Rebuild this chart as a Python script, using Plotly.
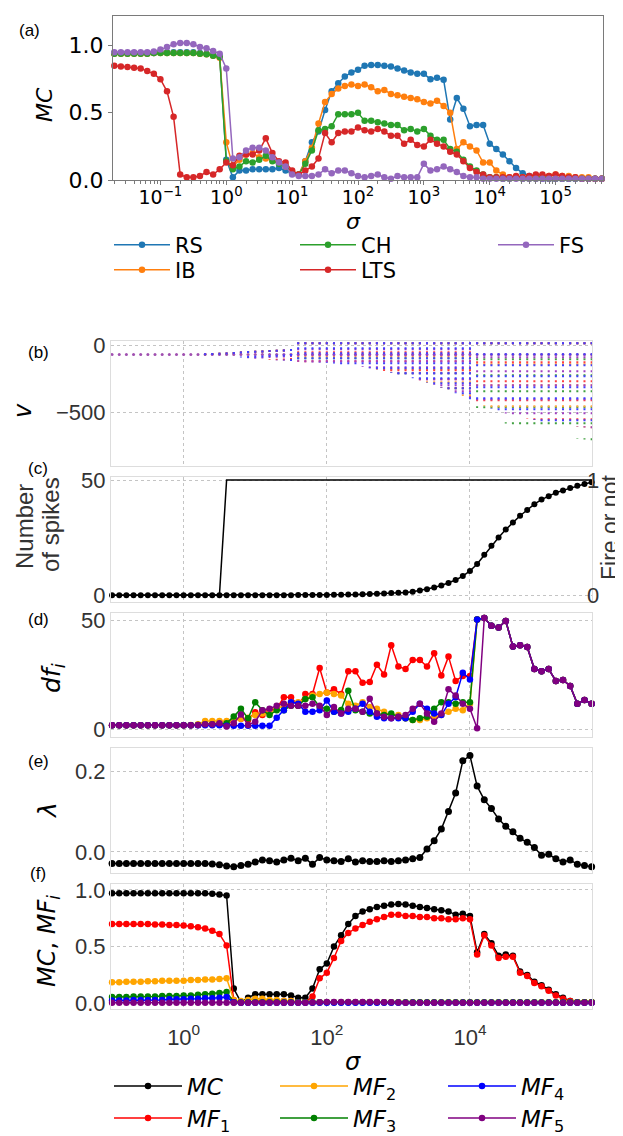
import plotly.graph_objects as go

W, H = 623, 1136

# ---------------- sigma grids (log10 of sigma) ----------------
log_sigma_a = [-1.7, -1.6, -1.5, -1.4, -1.3, -1.2, -1.1, -1.0, -0.9, -0.8,
               -0.7, -0.6, -0.5, -0.4, -0.3, -0.2, -0.1, 0.0, 0.1, 0.2,
               0.3, 0.4, 0.5, 0.6, 0.7, 0.8, 0.9, 1.0, 1.1, 1.2,
               1.3, 1.4, 1.5, 1.6, 1.7, 1.8, 1.9, 2.0, 2.1, 2.2,
               2.3, 2.4, 2.5, 2.6, 2.7, 2.8, 2.9, 3.0, 3.1, 3.2,
               3.3, 3.4, 3.5, 3.6, 3.7, 3.8, 3.9, 4.0, 4.1, 4.2,
               4.3, 4.4, 4.5, 4.6, 4.7, 4.8, 4.9, 5.0, 5.1, 5.2,
               5.3, 5.4, 5.5, 5.6, 5.7]
log_sigma_f = [-1.0, -0.9, -0.8, -0.7, -0.6, -0.5, -0.4, -0.3, -0.2, -0.1,
               0.0, 0.1, 0.2, 0.3, 0.4, 0.5, 0.6, 0.7, 0.8, 0.9,
               1.0, 1.1, 1.2, 1.3, 1.4, 1.5, 1.6, 1.7, 1.8, 1.9,
               2.0, 2.1, 2.2, 2.3, 2.4, 2.5, 2.6, 2.7, 2.8, 2.9,
               3.0, 3.1, 3.2, 3.3, 3.4, 3.5, 3.6, 3.7, 3.8, 3.9,
               4.0, 4.1, 4.2, 4.3, 4.4, 4.5, 4.6, 4.7, 4.8, 4.9,
               5.0, 5.1, 5.2, 5.3, 5.4, 5.5, 5.6, 5.7]

# ---------------- (a) MC per neuron type ----------------
mc_rs = [0.945, 0.945, 0.945, 0.945, 0.945, 0.945, 0.945, 0.95, 0.95, 0.95,
         0.95, 0.95, 0.95, 0.945, 0.94, 0.93, 0.92,
         0.15,
         0.02, 0.07, 0.07, 0.08, 0.08, 0.08, 0.08, 0.09, 0.07, 0.05,
         0.04, 0.14, 0.28, 0.36, 0.52, 0.66, 0.72, 0.77, 0.80, 0.82,
         0.85, 0.855, 0.855, 0.85, 0.845, 0.83, 0.815, 0.80, 0.79, 0.79,
         0.75, 0.76, 0.745, 0.45, 0.61, 0.53, 0.40, 0.41, 0.41, 0.27,
         0.23, 0.19, 0.14, 0.09, 0.05, 0.03, 0.015, 0.01, 0.01, 0.01,
         0.01, 0.01, 0.01, 0.01, 0.01, 0.01, 0.01]
mc_ib = [0.94, 0.94, 0.94, 0.94, 0.94, 0.94, 0.945, 0.945, 0.945, 0.945,
         0.945, 0.945, 0.945, 0.94, 0.935, 0.925, 0.91,
         0.28,
         0.10, 0.15, 0.19, 0.20, 0.17, 0.16, 0.15, 0.13, 0.10, 0.06,
         0.04, 0.14, 0.24, 0.42, 0.58, 0.64, 0.68, 0.70, 0.71, 0.70,
         0.71, 0.69, 0.66, 0.67, 0.64, 0.63, 0.62, 0.61, 0.60, 0.58,
         0.57, 0.59, 0.55, 0.50, 0.23, 0.28, 0.25, 0.22, 0.13, 0.13,
         0.07, 0.04, 0.02, 0.02, 0.02, 0.02, 0.03, 0.02, 0.03, 0.04,
         0.03, 0.03, 0.02, 0.02, 0.02, 0.01, 0.01]
mc_ch = [0.94, 0.94, 0.94, 0.94, 0.94, 0.94, 0.945, 0.945, 0.945, 0.945,
         0.945, 0.945, 0.945, 0.94, 0.935, 0.925, 0.915,
         0.14,
         0.08, 0.10, 0.14, 0.13, 0.15, 0.18, 0.14, 0.12, 0.11, 0.05,
         0.04, 0.12, 0.22, 0.37, 0.38, 0.40, 0.49, 0.49, 0.49, 0.50,
         0.44, 0.44, 0.43, 0.42, 0.41, 0.41, 0.37, 0.38, 0.36, 0.38,
         0.33, 0.30, 0.30, 0.23, 0.21, 0.15, 0.10, 0.07, 0.04, 0.02,
         0.02, 0.01, 0.01, 0.02, 0.01, 0.01, 0.01, 0.02, 0.01, 0.01,
         0.01, 0.01, 0.01, 0.01, 0.01, 0.01, 0.01]
mc_lts = [0.85, 0.845, 0.84, 0.835, 0.83, 0.81, 0.79, 0.75, 0.66, 0.47,
          0.04, 0.02, 0.02, 0.03, 0.06, 0.04, 0.08,
          0.13,
          0.11, 0.18, 0.19, 0.19, 0.22, 0.31, 0.20, 0.14, 0.13, 0.07,
          0.04, 0.07, 0.10, 0.16, 0.35, 0.28, 0.35, 0.36, 0.36, 0.39,
          0.37, 0.36, 0.38, 0.36, 0.33, 0.33, 0.27, 0.30, 0.26, 0.25,
          0.30, 0.27, 0.25, 0.21, 0.19, 0.14, 0.09, 0.06, 0.04, 0.02,
          0.02, 0.02, 0.02, 0.03, 0.02, 0.03, 0.04, 0.04, 0.03, 0.04,
          0.03, 0.02, 0.02, 0.01, 0.01, 0.01, 0.01]
mc_fs = [0.95, 0.95, 0.95, 0.95, 0.95, 0.95, 0.955, 0.97, 0.99, 1.01,
         1.02, 1.02, 1.01, 0.99, 0.98, 0.96, 0.94,
         0.83,
         0.16, 0.17, 0.22, 0.24, 0.24, 0.22, 0.17, 0.13, 0.10, 0.04,
         0.03, 0.03, 0.03, 0.04, 0.08, 0.05, 0.07, 0.07, 0.05, 0.03,
         0.02, 0.03, 0.04, 0.02, 0.01, 0.03, 0.02, 0.02, 0.02, 0.12,
         0.07, 0.08, 0.10, 0.08, 0.06, 0.03, 0.02, 0.02, 0.01, 0.01,
         0.01, 0.01, 0.01, 0.01, 0.01, 0.01, 0.01, 0.01, 0.01, 0.01,
         0.01, 0.01, 0.01, 0.01, 0.01, 0.01, 0.01]

# ---------------- (b) membrane potential columns ----------------
v_rest = [-70, -70, -70, -70, -70, -70, -70, -70, -70, -70,
          -70, -70, -70, -70, -70, -70, -70, -70, -70, -70,
          -70, -70, -70, -70, -70, -70, -70, -70, -70, -70,
          -70, -70, -70, -70, -70, -70, -70, -70, -70, -70,
          -70, -70, -70, -70, -70, -70, -70, -70, -70, -70,
          -70, -70, -70, -70, -70, -70, -70, -70, -70, -70,
          -70, -70, -70, -70, -70, -70, -70, -70]
v_top = [-70, -70, -70, -70, -70, -70, -70, -70, -70, -70,
         -70, -70, -70, -62, -60, -58, -55, -52, -48, -45,
         -42, -40, -38, -36, -34, -30, 20, 20, 20, 20,
         20, 20, 20, 20, 20, 20, 20, 20, 20, 20,
         20, 20, 20, 20, 20, 20, 20, 20, 20, 20,
         20, 20, 20, 20, 20, 20, 20, 20, 20, 20,
         20, 20, 20, 20, 20, 20, 20, 20]
v_bottom = [-70, -70, -70, -70, -70, -70, -70, -70, -70, -70,
            -70, -70, -70, -78, -80, -83, -86, -90, -94, -98,
            -102, -106, -110, -113, -116, -120, -125, -128, -130, -132,
            -134, -138, -143, -149, -156, -164, -173, -183, -194, -206,
            -219, -233, -248, -264, -281, -299, -318, -338, -359, -381,
            -404, -430, -455, -475, -495, -510, -525, -540, -550, -560,
            -570, -580, -590, -595, -600, -610, -615, -620]
v_lowest_sparse = [-470, -505, -540, -565, -585, -600, -615, -620, -640,
                   -655, -650, -665, -680, -690, -700, -705, -715]   # columns 51..67

# ---------------- (c) spikes ----------------
n_spikes = [0, 0, 0, 0, 0, 0, 0, 0, 0, 0,
            0, 0, 0, 0, 0, 0, 0, 0, 0, 0,
            0, 0, 0, 0, 0, 0, 0.1, 0.1, 0.1, 0.1,
            0.1, 0.2, 0.2, 0.3, 0.3, 0.4, 0.5, 0.6, 0.7, 0.9,
            1.0, 1.2, 1.5, 2.0, 2.6, 3.3, 4.2, 5.3, 6.6, 8.3,
            10.5, 13.5, 17.5, 21.5, 25, 28.5, 31.5, 34.5, 37, 39.5,
            41.5, 43, 44.5, 45.5, 46.5, 47.5, 48.3, 49]
fire = [0, 0, 0, 0, 0, 0, 0, 0, 0, 0,
        0, 0, 0, 0, 0, 0, 1, 1, 1, 1,
        1, 1, 1, 1, 1, 1, 1, 1, 1, 1,
        1, 1, 1, 1, 1, 1, 1, 1, 1, 1,
        1, 1, 1, 1, 1, 1, 1, 1, 1, 1,
        1, 1, 1, 1, 1, 1, 1, 1, 1, 1,
        1, 1, 1, 1, 1, 1, 1, 1]

# ---------------- (d) df_i ----------------
df1 = [2, 2, 2, 2, 2, 2, 2, 2, 2, 2,
       2, 2, 2.2, 2.5, 2.5, 2.5, 2.5, 4.5, 5, 4.5,
       8, 6.7, 8.9, 9.6, 14.8, 14.8, 11, 16.3, 16.3, 28.2,
       17, 18.5, 16.3, 26.7, 26.7, 21.5, 21.8, 29.7, 25.2, 38.6,
       28.9, 27.7, 31.9, 31.9, 28.9, 34.9, 24.8, 33.4, 22.3, 24.5,
       24.5, 50.3, 51, 47.5, 46.7, 49.7, 38, 38.6, 37.8, 27.7,
       26.7, 27.7, 22.3, 22.7, 20, 11.9, 13.6, 11.9]
df2 = [2, 2, 2, 2, 2, 2, 2, 2, 2, 2,
       2, 2.2, 2.5, 4, 4, 4, 4, 4, 5, 5.5,
       6.7, 7.4, 7.4, 9.6, 11, 12.6, 12.6, 14, 15.6, 16.3,
       17, 16.3, 15.6, 11.9, 11, 12.6, 10.4, 9.6, 8.2, 6.7,
       6.7, 5.2, 4.5, 4.5, 5.2, 5.9, 6.7, 8.2, 9.6, 8.9,
       11.9, 50.3, 51, 47.5, 46.7, 49.7, 38, 38.6, 37.8, 27.7,
       26.7, 27.7, 22.3, 22.7, 20, 11.9, 13.6, 11.9]
df3 = [2, 2, 2, 2, 2, 2, 2, 2, 2, 2,
       2, 2, 2.2, 2.5, 2.5, 2.5, 3, 6, 9.6, 5.2,
       12.6, 8.9, 6.7, 8.9, 8.9, 11, 11, 14, 14.8, 10.4,
       9.6, 8.2, 9.0, 17.8, 8.9, 8.2, 7.4, 7.4, 6.7, 7.4,
       5.9, 5.2, 4.5, 5.2, 5.9, 9.6, 12.6, 12.6, 11.9, 12.6,
       12.6, 50.3, 51, 47.5, 46.7, 49.7, 38, 38.6, 37.8, 27.7,
       26.7, 27.7, 22.3, 22.7, 20, 11.9, 13.6, 11.9]
df4 = [2, 2, 2, 2, 2, 2, 2, 2, 2, 2,
       2, 2, 2, 2, 2, 2, 1.8, 1.8, 1.8, 1.8,
       1.8, 1.8, 1.8, 5.5, 8.9, 12.6, 11.9, 8.2, 8.2, 8.9,
       13.4, 8.2, 7.4, 8.2, 9.6, 11.9, 8.2, 5.9, 5.2, 5.2,
       5.2, 5.2, 8.2, 11.9, 9.6, 7.4, 6.7, 11.9, 14.8, 26,
       23, 50.3, 51, 47.5, 46.7, 49.7, 38, 38.6, 37.8, 27.7,
       26.7, 27.7, 22.3, 22.7, 20, 11.9, 13.6, 11.9]
df5 = [2, 2, 2, 2, 2, 2, 2, 2, 2, 2,
       2, 2, 2.2, 2.5, 2.5, 3, 1.5, 3, 7, 2.2,
       3.7, 8.9, 9.6, 11, 11.9, 11, 11, 11, 11.9, 11,
       6.7, 10.4, 7.4, 9.6, 9.6, 8.2, 14.1, 7.4, 5.9, 5.2,
       5.9, 6.7, 9.6, 11.9, 7.4, 3.7, 7.4, 18.5, 15.6, 11.9,
       9.6, 0.7, 51, 47.5, 46.7, 49.7, 38, 38.6, 37.8, 27.7,
       26.7, 27.7, 22.3, 22.7, 20, 11.9, 13.6, 11.9]

# ---------------- (e) lambda ----------------
lam = [-0.029, -0.029, -0.029, -0.029, -0.029, -0.029, -0.029, -0.029, -0.029, -0.029,
       -0.029, -0.029, -0.029, -0.029, -0.030, -0.032, -0.035, -0.037, -0.034, -0.031,
       -0.025, -0.020, -0.022, -0.025, -0.020, -0.016, -0.022, -0.016, -0.031, -0.014,
       -0.020, -0.022, -0.024, -0.017, -0.025, -0.022, -0.024, -0.024, -0.022, -0.024,
       -0.022, -0.020, -0.017, -0.014, 0.007, 0.028, 0.057, 0.101, 0.147, 0.227,
       0.240, 0.164, 0.130, 0.108, 0.082, 0.064, 0.050, 0.034, 0.024, 0.011,
       -0.008, -0.006, -0.017, -0.025, -0.020, -0.031, -0.034, -0.037]

# ---------------- (f) MC and MF_i ----------------
mc_f = [0.97, 0.97, 0.97, 0.97, 0.97, 0.97, 0.97, 0.97, 0.97, 0.97,
        0.97, 0.97, 0.97, 0.97, 0.965, 0.96, 0.95, 0.13, 0.01, 0.05,
        0.08, 0.08, 0.08, 0.08, 0.08, 0.07, 0.05, 0.05, 0.13, 0.30,
        0.35, 0.50, 0.60, 0.70, 0.77, 0.81, 0.83, 0.85, 0.86, 0.87,
        0.875, 0.87, 0.86, 0.85, 0.84, 0.83, 0.82, 0.81, 0.78, 0.79,
        0.77, 0.45, 0.61, 0.53, 0.42, 0.43, 0.42, 0.28, 0.25, 0.19,
        0.16, 0.12, 0.08, 0.05, 0.02, 0.01, 0.01, 0.01]
mf1 = [0.70, 0.70, 0.70, 0.70, 0.70, 0.70, 0.695, 0.695, 0.69, 0.69,
       0.685, 0.68, 0.67, 0.66, 0.64, 0.61, 0.51, 0.03, 0.01, 0.01,
       0.02, 0.02, 0.02, 0.02, 0.02, 0.02, 0.01, 0.01, 0.06, 0.22,
       0.27, 0.40, 0.55, 0.62, 0.66, 0.69, 0.72, 0.74, 0.76, 0.78,
       0.78, 0.77, 0.77, 0.76, 0.76, 0.75, 0.75, 0.74, 0.74, 0.75,
       0.74, 0.43, 0.60, 0.51, 0.40, 0.41, 0.41, 0.27, 0.24, 0.18,
       0.15, 0.11, 0.07, 0.04, 0.02, 0.01, 0.01, 0.01]
mf2 = [0.185, 0.185, 0.19, 0.19, 0.19, 0.195, 0.195, 0.2, 0.2, 0.2,
       0.2, 0.205, 0.205, 0.21, 0.21, 0.215, 0.22, 0.03, 0.02, 0.03,
       0.04, 0.04, 0.03, 0.03, 0.02, 0.02, 0.01, 0.01, 0.01, 0.01,
       0.01, 0.01, 0.01, 0.01, 0.01, 0.01, 0.01, 0.01, 0.01, 0.01,
       0.01, 0.01, 0.01, 0.01, 0.01, 0.01, 0.01, 0.01, 0.01, 0.01,
       0.01, 0.01, 0.01, 0.01, 0.01, 0.01, 0.01, 0.01, 0.01, 0.01,
       0.01, 0.01, 0.01, 0.01, 0.01, 0.01, 0.01, 0.01]
mf3 = [0.055, 0.055, 0.055, 0.06, 0.06, 0.06, 0.06, 0.065, 0.065, 0.065,
       0.07, 0.07, 0.075, 0.08, 0.085, 0.09, 0.10, 0.01, 0.01, 0.01,
       0.01, 0.01, 0.01, 0.01, 0.01, 0.01, 0.01, 0.01, 0.01, 0.01,
       0.01, 0.01, 0.01, 0.01, 0.01, 0.01, 0.01, 0.01, 0.01, 0.01,
       0.01, 0.01, 0.01, 0.01, 0.01, 0.01, 0.01, 0.01, 0.01, 0.01,
       0.01, 0.01, 0.01, 0.01, 0.01, 0.01, 0.01, 0.01, 0.01, 0.01,
       0.01, 0.01, 0.01, 0.01, 0.01, 0.01, 0.01, 0.01]
mf4 = [0.025, 0.025, 0.025, 0.03, 0.03, 0.03, 0.03, 0.03, 0.035, 0.035,
       0.035, 0.04, 0.04, 0.045, 0.045, 0.05, 0.055, 0.01, 0.005, 0.005,
       0.005, 0.005, 0.005, 0.005, 0.005, 0.005, 0.005, 0.005, 0.005, 0.005,
       0.005, 0.005, 0.005, 0.005, 0.005, 0.005, 0.005, 0.005, 0.005, 0.005,
       0.005, 0.005, 0.005, 0.005, 0.005, 0.005, 0.005, 0.005, 0.005, 0.005,
       0.005, 0.005, 0.005, 0.005, 0.005, 0.005, 0.005, 0.005, 0.005, 0.005,
       0.005, 0.005, 0.005, 0.005, 0.005, 0.005, 0.005, 0.005]
mf5 = [0.005, 0.005, 0.005, 0.005, 0.005, 0.005, 0.005, 0.005, 0.005, 0.005,
       0.005, 0.005, 0.005, 0.005, 0.005, 0.005, 0.005, 0.005, 0.005, 0.005,
       0.005, 0.005, 0.005, 0.005, 0.005, 0.005, 0.005, 0.005, 0.008, 0.01,
       0.012, 0.012, 0.012, 0.012, 0.012, 0.012, 0.012, 0.012, 0.01, 0.01,
       0.008, 0.005, 0.005, 0.005, 0.005, 0.005, 0.005, 0.005, 0.005, 0.005,
       0.005, 0.005, 0.005, 0.005, 0.005, 0.005, 0.005, 0.005, 0.005, 0.005,
       0.005, 0.005, 0.005, 0.005, 0.005, 0.005, 0.005, 0.005]

for arr in (mc_rs, mc_ib, mc_ch, mc_lts, mc_fs):
    assert len(arr) == len(log_sigma_a), len(arr)
for arr in (v_rest, v_top, v_bottom, n_spikes, fire, df1, df2, df3, df4, df5,
            lam, mc_f, mf1, mf2, mf3, mf4, mf5):
    assert len(arr) == len(log_sigma_f), len(arr)

sigma_a = [10 ** v for v in log_sigma_a]
sigma_f = [10 ** v for v in log_sigma_f]

DJ = "DejaVu Sans"
LS = "Liberation Sans"


def X(p):
    return p / W


def Y(p):
    return 1 - p / H


fig = go.Figure()
legend_layout = {}
legend_count = [0]


def new_legend(x_px, y_px, size, itemwidth):
    legend_count[0] += 1
    key = "legend" if legend_count[0] == 1 else "legend%d" % legend_count[0]
    legend_layout[key] = dict(x=X(x_px), y=Y(y_px), xanchor="left", yanchor="middle",
                              orientation="v", bgcolor="rgba(0,0,0,0)", borderwidth=0,
                              itemwidth=itemwidth,
                              font=dict(family=DJ, size=size, color="black"))
    return key


# ---------- (a) ----------
a_series = [("RS", mc_rs, "#1f77b4", 101, 237), ("IB", mc_ib, "#ff7f0e", 101, 262),
            ("CH", mc_ch, "#2ca02c", 287, 237), ("LTS", mc_lts, "#d62728", 287, 262),
            ("FS", mc_fs, "#9467bd", 485, 237)]
for name, vals, col, lx, ly in a_series:
    lg = new_legend(lx, ly, 21, 56)
    fig.add_trace(go.Scatter(x=sigma_a, y=vals, name=name, mode="lines+markers",
                             line=dict(color=col, width=1.5), marker=dict(color=col, size=6.5),
                             xaxis="x", yaxis="y", legend=lg, cliponaxis=False))

# ---------- (b) ----------
b_dense = [("#40a040", "2px,13px"), ("#ffa640", "2px,11px"), ("#ff4040", "2px,7px"),
           ("#a040c0", "2px,4px"), ("#4040ff", "2px,3px")]
b_sparse = [("#ffa640", "2px,19px"), ("#ff4040", "2px,17px"),
            ("#a040c0", "2px,12px"), ("#4040ff", "2px,9px")]
n_dense_end = 51
xs_d, ys_d = [], []
xs_s, ys_s = [], []
xs_g, ys_g = [], []
for i, s in enumerate(sigma_f):
    if v_top[i] > v_bottom[i]:
        if i < n_dense_end:
            xs_d += [s, s, None]
            ys_d += [v_top[i], v_bottom[i], None]
        else:
            xs_s += [s, s, None]
            ys_s += [v_top[i], v_bottom[i], None]
            xs_g += [s, s, None]
            ys_g += [v_top[i], v_lowest_sparse[i - n_dense_end], None]
fig.add_trace(go.Scatter(x=sigma_f, y=v_rest, mode="markers", showlegend=False,
                         marker=dict(color="#a050b0", size=3), xaxis="x2", yaxis="y2"))
for col, dash in b_dense:
    fig.add_trace(go.Scatter(x=xs_d, y=ys_d, mode="lines", showlegend=False,
                             line=dict(color=col, width=2, dash=dash), xaxis="x2", yaxis="y2"))
fig.add_trace(go.Scatter(x=xs_g, y=ys_g, mode="lines", showlegend=False,
                         line=dict(color="#40a040", width=2, dash="2px,14px"), xaxis="x2", yaxis="y2"))
for col, dash in b_sparse:
    fig.add_trace(go.Scatter(x=xs_s, y=ys_s, mode="lines", showlegend=False,
                             line=dict(color=col, width=2, dash=dash), xaxis="x2", yaxis="y2"))

# ---------- (c) ----------
fig.add_trace(go.Scatter(x=sigma_f, y=n_spikes, mode="lines+markers", showlegend=False,
                         line=dict(color="black", width=1.5), marker=dict(color="black", size=6),
                         xaxis="x3", yaxis="y3", cliponaxis=False))
fig.add_trace(go.Scatter(x=sigma_f, y=fire, mode="lines", showlegend=False,
                         line=dict(color="black", width=1.5), xaxis="x3", yaxis="y7"))

# ---------- (d) ----------
d_cols = [(df1, "#ff0000"), (df2, "#ffa500"), (df3, "#008000"), (df4, "#0000ff"), (df5, "#800080")]
for vals, col in d_cols:
    fig.add_trace(go.Scatter(x=sigma_f, y=vals, mode="lines+markers", showlegend=False,
                             line=dict(color=col, width=1.5), marker=dict(color=col, size=6.5),
                             xaxis="x4", yaxis="y4", cliponaxis=False))

# ---------- (e) ----------
fig.add_trace(go.Scatter(x=sigma_f, y=lam, mode="lines+markers", showlegend=False,
                         line=dict(color="black", width=1.5), marker=dict(color="black", size=7),
                         xaxis="x5", yaxis="y5", cliponaxis=False))

# ---------- (f) ----------
f_series = [("<i>MC</i>", mc_f, "black", 101, 1078),
            ("<i>MF</i><sub>1</sub>", mf1, "#ff0000", 101, 1110),
            ("<i>MF</i><sub>2</sub>", mf2, "#ffa500", 267, 1078),
            ("<i>MF</i><sub>3</sub>", mf3, "#008000", 267, 1110),
            ("<i>MF</i><sub>4</sub>", mf4, "#0000ff", 435, 1078),
            ("<i>MF</i><sub>5</sub>", mf5, "#800080", 435, 1110)]
for name, vals, col, lx, ly in f_series:
    lg = new_legend(lx, ly, 23, 68)
    fig.add_trace(go.Scatter(x=sigma_f, y=vals, name=name, mode="lines+markers",
                             line=dict(color=col, width=1.5), marker=dict(color=col, size=6.5),
                             xaxis="x6", yaxis="y6", legend=lg, cliponaxis=False))

# ---------- layout ----------
a_ticks = [0.1, 1, 10, 100, 1000, 10000, 100000]
a_ticktext = ["10<sup>\u22121</sup>", "10<sup>0</sup>", "10<sup>1</sup>", "10<sup>2</sup>",
              "10<sup>3</sup>", "10<sup>4</sup>", "10<sup>5</sup>"]
a_minor = [m * 10 ** e for e in range(-2, 6) for m in range(2, 10)]

frame_a = dict(showline=True, mirror=True, linecolor="#7a7a7a", linewidth=1.2, zeroline=False,
               showgrid=False, automargin=False)
x_dom = [X(103), X(584)]
x_rng = [-1.015, 5.705]
panel_rows = {"b": (333, 457.8), "c": (468.8, 593.6), "d": (604.6, 729.4),
              "e": (740.4, 865.2), "f": (876.2, 1001)}


def ydom(key):
    t, b = panel_rows[key]
    return [Y(b), Y(t)]


frame_bf = dict(showline=True, mirror=True, linecolor="#dddddd", linewidth=1.2, zeroline=False,
                showgrid=True, gridcolor="#c4c4c4", griddash="dot", gridwidth=1, ticks="",
                automargin=False)


def xaxis_bf(anchor, labels=False):
    d = dict(type="log", domain=x_dom, range=x_rng, anchor=anchor,
             tickvals=[1, 100, 10000], **frame_bf)
    if labels:
        d.update(ticktext=["10<sup>0</sup>", "10<sup>2</sup>", "10<sup>4</sup>"],
                 tickfont=dict(family=LS, size=22, color="#333333"), ticklabelstandoff=8)
    else:
        d.update(showticklabels=False)
    return d


ytf = dict(family=LS, size=22, color="#333333")

fig.update_layout(
    width=W, height=H, margin=dict(l=0, r=0, t=0, b=0, autoexpand=False),
    paper_bgcolor="white", plot_bgcolor="white",
    xaxis=dict(type="log", domain=[X(105), X(595)], range=[-1.72, 5.72], anchor="y",
               tickvals=a_ticks, ticktext=a_ticktext, ticks="outside", ticklen=4,
               tickcolor="#7a7a7a", tickfont=dict(family=DJ, size=19, color="black"),
               ticklabelstandoff=-4,
               minor=dict(tickvals=a_minor, ticks="outside", ticklen=2.5, tickcolor="#7a7a7a"),
               **frame_a),
    yaxis=dict(domain=[Y(172), Y(8)], range=[0, 1.22], anchor="x",
               tickvals=[0, 0.5, 1.0], ticktext=["0.0", "0.5", "1.0"], ticks="outside",
               ticklen=4, tickcolor="#7a7a7a", tickfont=dict(family=DJ, size=22, color="black"),
               **frame_a),
    xaxis2=xaxis_bf("y2"),
    yaxis2=dict(domain=ydom("b"), range=[-901, 30], anchor="x2", tickvals=[-500, 0],
                tickfont=ytf, **frame_bf),
    xaxis3=xaxis_bf("y3"),
    yaxis3=dict(domain=ydom("c"), range=[-2.8, 51.4], anchor="x3", tickvals=[0, 50],
                tickfont=ytf, **frame_bf),
    yaxis7=dict(overlaying="y3", side="right", anchor="x3", range=[-0.056, 1.028],
                tickvals=[0, 1], showgrid=False, zeroline=False, ticks="", showline=False,
                tickfont=ytf, ticklabelstandoff=-6, automargin=False),
    xaxis4=xaxis_bf("y4"),
    yaxis4=dict(domain=ydom("d"), range=[-3.5, 53.5], anchor="x4", tickvals=[0, 50],
                tickfont=ytf, **frame_bf),
    xaxis5=xaxis_bf("y5"),
    yaxis5=dict(domain=ydom("e"), range=[-0.053, 0.258], anchor="x5", tickvals=[0, 0.2],
                ticktext=["0.0", "0.2"], tickfont=ytf, **frame_bf),
    xaxis6=xaxis_bf("y6", labels=True),
    yaxis6=dict(domain=ydom("f"), range=[-0.05, 1.05], anchor="x6", tickvals=[0, 0.5, 1.0],
                ticktext=["0.0", "0.5", "1.0"], tickfont=ytf, **frame_bf),
    **legend_layout
)

ann = []


def add_text(text, x, y, size, family=DJ, angle=0, color="black"):
    ann.append(dict(text=text, x=X(x), y=Y(y), xref="paper", yref="paper",
                    showarrow=False, textangle=angle, xanchor="center", yanchor="middle",
                    font=dict(family=family, size=size, color=color)))


for lab, yy, xx in [("(a)", 22, 21), ("(b)", 345, 30), ("(c)", 460, 30), ("(d)", 612, 30),
                    ("(e)", 753, 30), ("(f)", 865, 30)]:
    add_text(lab, xx, yy, 17, family=LS)
add_text("<i>MC</i>", 36, 97, 22, angle=-90)
add_text("<i>\u03c3</i>", 345, 213, 22)
add_text("<i>v</i>", 15, 403, 24, angle=-90)
add_text("Number", 17, 519, 24, family=LS, angle=-90, color="#333333")
add_text("of spikes", 42, 517, 24, family=LS, angle=-90, color="#333333")
add_text("Fire or not", 602, 520, 23, family=LS, angle=-90, color="#333333")
add_text("<i>df</i><sub><i>i</i></sub>", 45, 670, 25, angle=-90)
add_text("<i>\u03bb</i>", 39, 803, 25, angle=-90)
add_text("<i>MC</i>, <i>MF</i><sub><i>i</i></sub>", 40, 933, 24, angle=-90)
add_text("<i>\u03c3</i>", 345, 1054, 24)
fig.update_layout(annotations=ann)

fig.write_html("out.html")
